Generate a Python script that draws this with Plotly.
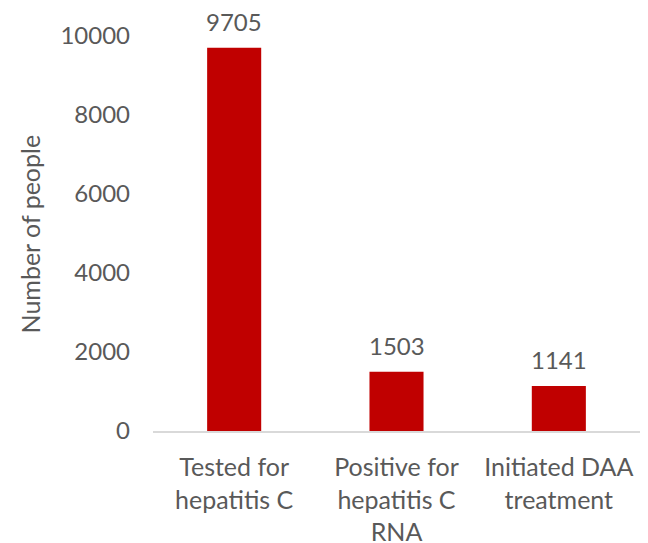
import plotly.graph_objects as go

categories = ["Tested for<br>hepatitis C", "Positive for<br>hepatitis C<br>RNA", "Initiated DAA<br>treatment"]
values = [9705, 1503, 1141]
y_ticks = [0, 2000, 4000, 6000, 8000, 10000]
y_tick_labels = ["0", "2000", "4000", "6000", "8000", "10000"]

FONT = "Lato"
GRAY = "#595959"

fig = go.Figure()
fig.add_trace(go.Bar(
    x=categories, y=values,
    marker=dict(color="#C00000", line=dict(width=0)),
    width=0.333,
))

for c, v in zip(categories, values):
    fig.add_annotation(x=c, y=v, text=str(v), showarrow=False,
                       yanchor="bottom", yshift=10,
                       font=dict(family=FONT, size=24, color=GRAY))

fig.add_annotation(xref="paper", yref="paper", x=-0.2526, y=0.5,
                   text="Number of people", textangle=-90, showarrow=False,
                   xanchor="center", yanchor="middle",
                   font=dict(family=FONT, size=25, color=GRAY))

fig.update_layout(
    width=640, height=535,
    margin=dict(l=145, r=8, t=28, b=112, autoexpand=False),
    plot_bgcolor="white", paper_bgcolor="white",
    showlegend=False,
    font=dict(family=FONT, size=24, color=GRAY),
    bargap=0.667,
)
fig.update_xaxes(
    range=[-0.5, 2.5], showgrid=False, showline=True, linecolor="#D9D9D9",
    linewidth=2, ticks="", ticklabelstandoff=13,
    tickfont=dict(family=FONT, size=25, color=GRAY),
)
fig.update_yaxes(
    range=[0, 10000], tickvals=y_ticks, ticktext=y_tick_labels,
    showgrid=False, showline=False,
    zeroline=False, ticks="", ticklabelstandoff=22,
    tickfont=dict(family=FONT, size=24, color=GRAY),
)

fig.write_html("out.html")
